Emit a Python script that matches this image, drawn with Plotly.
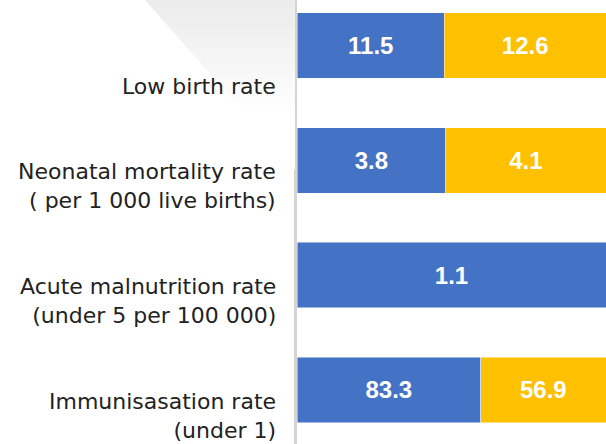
import plotly.graph_objects as go

categories = [
    "Low birth rate",
    "Neonatal mortality rate<br>( per 1 000 live births)",
    "Acute malnutrition rate<br>(under 5 per 100 000)",
    "Immunisasation rate<br>(under 1)",
]
series_a = [11.5, 3.8, 1.1, 83.3]
series_b = [12.6, 4.1, None, 56.9]
series_names = ["Series A", "Series B"]
colors = ["#4472C4", "#FFC000"]

W, H = 606, 444
axis_px = 297

fig = go.Figure()

# decorative faded corner shape (separate full-page axes in pixel space)
fig.add_trace(go.Scatter(
    x=[145, 295, 295, 145], y=[0, 0, 170, 0],
    xaxis="x2", yaxis="y2", mode="lines", line=dict(width=0),
    fill="toself",
    fillgradient=dict(type="vertical",
                      colorscale=[[0, "#ebebeb"], [1, "#ffffff"]],
                      start=0, stop=115),
    hoverinfo="skip", showlegend=False,
))

for name, vals, col in zip(series_names, [series_a, series_b], colors):
    fig.add_trace(go.Bar(
        y=categories, x=vals, name=name, orientation="h",
        marker=dict(color=col, line=dict(color="rgba(255,255,255,0.6)", width=0.8)),
        text=[("" if v is None else f"{v:.1f}") for v in vals],
        texttemplate="%{text}",
        textposition="inside", insidetextanchor="middle",
        textfont=dict(family="Liberation Sans", size=24, color="white", weight="bold"),
        width=0.57,
        cliponaxis=False,
    ))

top_val = -45.5 / 114.83
bot_val = (H - 45.5) / 114.83

fig.update_layout(
    width=W, height=H,
    margin=dict(l=0, r=0, t=0, b=0),
    paper_bgcolor="white", plot_bgcolor="rgba(0,0,0,0)",
    barmode="stack", barnorm="fraction",
    showlegend=False,
    xaxis=dict(domain=[axis_px / W, 1], range=[0, 1], visible=False, fixedrange=True),
    yaxis=dict(type="category", categoryorder="array", categoryarray=categories,
               range=[bot_val, top_val], showticklabels=False, showgrid=False,
               zeroline=False, showline=True, linecolor="#d4d4d4", linewidth=2.5,
               ticks=""),
    xaxis2=dict(domain=[0, 1], range=[0, W], visible=False, anchor="y2"),
    yaxis2=dict(domain=[0, 1], range=[H, 0], visible=False, anchor="x2"),
)

for cat in categories:
    fig.add_annotation(
        x=278 / W, xref="paper", xanchor="right",
        y=cat, yref="y", yanchor="bottom", yshift=-55,
        text=cat, showarrow=False, align="right",
        font=dict(family="DejaVu Sans", size=22, color="#222222"),
    )

fig.write_html(
    "out.html",
    config={"displayModeBar": False},
    post_script="document.body.style.margin='0';document.body.style.overflow='hidden';",
)
